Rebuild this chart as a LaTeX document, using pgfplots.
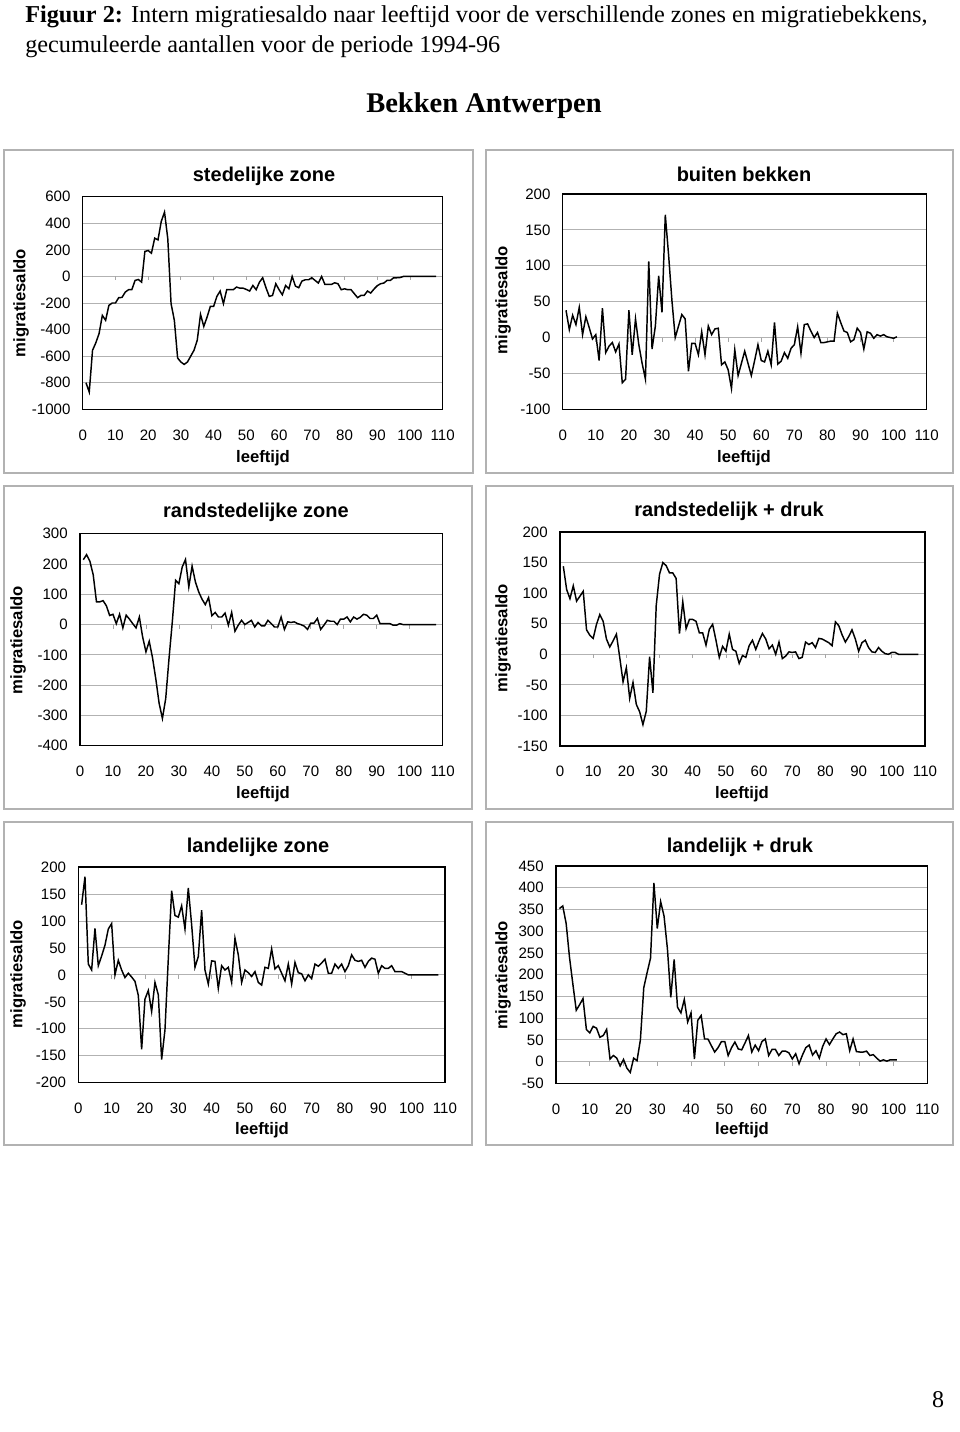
\documentclass[border=0pt]{standalone}
\usepackage{fontspec}
\setmainfont{Liberation Serif}
\newfontfamily\arial{Liberation Sans}
\usepackage{pgfplots}
\pgfplotsset{compat=1.18}
\newcommand\tickfont{\arial\fontsize{11.3}{13}\selectfont}
\newcommand\titlefont{\arial\bfseries\fontsize{15}{17}\selectfont}
\newcommand\labfont{\arial\bfseries\fontsize{12.5}{15}\selectfont}
\pgfplotsset{
  panel/.style={
    scale only axis, anchor=south west,
    xmin=0, xmax=110, xtick={0,10,...,110},
    axis line style={black, line width=0.9pt},
    ymajorgrids, grid style={line width=0.6pt, color=black!30},
    major tick length=0pt, minor tick length=0pt,
    tick label style={font=\tickfont},
    /pgf/number format/assume math mode=true,
    /pgf/number format/1000 sep={},
    scaled ticks=false,
    xticklabel style={anchor=center, yshift=-19.3pt},
    yticklabel style={anchor=east, inner sep=0pt, xshift=-9pt},
  },
  dat/.style={black, line width=1.1pt, mark=none},
}
\newcommand\zeroticks{\pgfplotsinvokeforeach{10,20,...,100}{\draw[black!35, line width=0.6pt] (axis cs:##1,0) -- ([yshift=-3pt]axis cs:##1,0);}}
\begin{document}
\begin{tikzpicture}
\begin{scope}[x=0.75pt,y=-0.75pt]
\path[use as bounding box] (0,0) rectangle (960,1432);
\node[anchor=base west, inner sep=0pt, font=\fontsize{18.2}{22}\selectfont] at (25,22) {\textbf{Figuur 2:} Intern migratiesaldo naar leeftijd voor de verschillende zones en migratiebekkens,};
\node[anchor=base west, inner sep=0pt, font=\fontsize{18.2}{22}\selectfont] at (25,52) {gecumuleerde aantallen voor de periode 1994-96};
\node[anchor=base, inner sep=0pt, font=\bfseries\fontsize{21.4}{25}\selectfont] at (484,112) {Bekken Antwerpen};
\draw[black!30, line width=0.9pt] (4,150) rectangle (473,473);
\draw[black!30, line width=0.9pt] (486,150) rectangle (953,473);
\draw[black!30, line width=0.9pt] (4,486) rectangle (472,809);
\draw[black!30, line width=0.9pt] (486,486) rectangle (953,809);
\draw[black!30, line width=0.9pt] (4,822) rectangle (472,1145);
\draw[black!30, line width=0.9pt] (486,822) rectangle (953,1145);
% titles
\node[font=\titlefont] at (264,176) {stedelijke zone};
\node[font=\titlefont] at (744,174) {buiten bekken};
\node[font=\titlefont] at (256,512) {randstedelijke zone};
\node[font=\titlefont] at (729,511) {randstedelijk + druk};
\node[font=\titlefont] at (258,847) {landelijke zone};
\node[font=\titlefont] at (740,847) {landelijk + druk};
% y labels
\node[font=\labfont, rotate=90] at (21,303) {migratiesaldo};
\node[font=\labfont, rotate=90] at (503,300) {migratiesaldo};
\node[font=\labfont, rotate=90] at (18,640) {migratiesaldo};
\node[font=\labfont, rotate=90] at (503,638) {migratiesaldo};
\node[font=\labfont, rotate=90] at (18,974) {migratiesaldo};
\node[font=\labfont, rotate=90] at (503,975) {migratiesaldo};
% x labels
\node[font=\labfont] at (263,458) {leeftijd};
\node[font=\labfont] at (744,458) {leeftijd};
\node[font=\labfont] at (263,794) {leeftijd};
\node[font=\labfont] at (742,794) {leeftijd};
\node[font=\labfont] at (262,1130) {leeftijd};
\node[font=\labfont] at (742,1130) {leeftijd};
\node[anchor=base, font=\fontsize{18}{20}\selectfont] at (938,1407) {8};
\end{scope}

% Panel 1: stedelijke zone
\begin{axis}[panel, at={(62.03pt,-306.98pt)}, width=270pt, height=159.45pt,
  ymin=-1000, ymax=600, ytick={-1000,-800,...,600}]
\zeroticks
\addplot[dat] coordinates {(1,-800)(2,-870)(3,-556)(4,-500)(5,-430)(6,-293)(7,-330)(8,-218)(9,-200)(10,-200)(11,-160)(12,-158)(13,-118)(14,-100)(15,-100)(16,-30)(17,-23)(18,-43)(19,188)(20,195)(21,175)(22,288)(23,275)(24,414)(25,484)(26,283)(27,-205)(28,-330)(29,-614)(30,-644)(31,-662)(32,-644)(33,-600)(34,-556)(35,-480)(36,-286)(37,-376)(38,-306)(39,-226)(40,-226)(41,-150)(42,-110)(43,-205)(44,-100)(45,-100)(46,-100)(47,-80)(48,-88)(49,-88)(50,-98)(51,-110)(52,-68)(53,-100)(54,-43)(55,-10)(56,-85)(57,-150)(58,-143)(59,-55)(60,-100)(61,-138)(62,-68)(63,-93)(64,0)(65,-73)(66,-85)(67,-35)(68,-25)(69,-25)(70,-10)(71,-30)(72,-50)(73,0)(74,-60)(75,-60)(76,-60)(77,-48)(78,-55)(79,-100)(80,-93)(81,-100)(82,-100)(83,-130)(84,-160)(85,-143)(86,-143)(87,-110)(88,-125)(89,-95)(90,-70)(91,-55)(92,-50)(93,-30)(94,-30)(95,-10)(96,-10)(97,-8)(98,0)(99,0)(100,0)(101,0)(102,0)(103,0)(104,0)(105,0)(106,0)(107,0)(108,0)};
\end{axis}

% Panel 2: buiten bekken
\begin{axis}[panel, at={(422.03pt,-306.98pt)}, width=273pt, height=161.5pt,
  ymin=-100, ymax=200, ytick={-100,-50,...,200}]
\zeroticks
\addplot[dat] coordinates {(1,38)(2,11)(3,31)(4,18)(5,42)(6,4)(7,29)(8,14)(9,-2)(10,4)(11,-32)(12,41)(13,-21)(14,-12)(15,-7)(16,-20)(17,-9)(18,-63)(19,-58)(20,38)(21,-24)(22,26)(23,-10)(24,-36)(25,-58)(26,106)(27,-16)(28,16)(29,86)(30,35)(31,171)(32,115)(33,52)(34,0)(35,16)(36,32)(37,26)(38,-47)(39,-8)(40,-8)(41,-24)(42,8)(43,-24)(44,16)(45,4)(46,12)(47,13)(48,-38)(49,-34)(50,-45)(51,-71)(52,-17)(53,-53)(54,-36)(55,-19)(56,-36)(57,-53)(58,-32)(59,-10)(60,-32)(61,-34)(62,-19)(63,-38)(64,21)(65,-37)(66,-33)(67,-21)(68,-29)(69,-15)(70,-10)(71,15)(72,-22)(73,18)(74,19)(75,9)(76,0)(77,7)(78,-7)(79,-7)(80,-6)(81,-5)(82,-5)(83,34)(84,21)(85,9)(86,7)(87,-6)(88,-3)(89,13)(90,7)(91,-16)(92,8)(93,6)(94,-1)(95,4)(96,2)(97,4)(98,1)(99,0)(100,-1)(101,1)};
\end{axis}

% Panel 3: randstedelijke zone
\begin{axis}[panel, at={(60pt,-559.28pt)}, width=272pt, height=159pt,
  ymin=-400, ymax=300, ytick={-400,-300,...,300}]
\zeroticks
\addplot[dat] coordinates {(1,214)(2,231)(3,209)(4,165)(5,75)(6,75)(7,79)(8,62)(9,30)(10,34)(11,3)(12,34)(13,-11)(14,31)(15,18)(16,3)(17,-11)(18,25)(19,-41)(20,-90)(21,-55)(22,-110)(23,-180)(24,-260)(25,-310)(26,-244)(27,-112)(28,9)(29,146)(30,135)(31,190)(32,215)(33,124)(34,193)(35,141)(36,108)(37,84)(38,66)(39,89)(40,29)(41,40)(42,25)(43,25)(44,38)(45,-2)(46,40)(47,-22)(48,-2)(49,14)(50,0)(51,7)(52,14)(53,-8)(54,7)(55,-4)(56,-4)(57,14)(58,3)(59,-8)(60,-8)(61,25)(62,-16)(63,9)(64,7)(65,9)(66,3)(67,0)(68,-5)(69,-16)(70,5)(71,5)(72,20)(73,-16)(74,-2)(75,14)(76,11)(77,11)(78,0)(79,18)(80,18)(81,25)(82,9)(83,25)(84,18)(85,24)(86,34)(87,31)(88,20)(89,20)(90,31)(91,3)(92,3)(93,3)(94,3)(95,-2)(96,-2)(97,3)(98,0)(99,0)(100,0)(101,0)(102,0)(103,0)(104,0)(105,0)(106,0)(107,0)(108,0)};
\end{axis}

% Panel 4: randstedelijk + druk
\begin{axis}[panel, at={(420pt,-559.5pt)}, width=273.75pt, height=160.5pt,
  ymin=-150, ymax=200, ytick={-150,-100,...,200}]
\zeroticks
\addplot[dat] coordinates {(1,144)(2,106)(3,91)(4,112)(5,87)(6,95)(7,103)(8,40)(9,31)(10,26)(11,49)(12,65)(13,54)(14,25)(15,12)(16,22)(17,33)(18,-5)(19,-45)(20,-22)(21,-72)(22,-46)(23,-82)(24,-94)(25,-115)(26,-93)(27,-4)(28,-63)(29,80)(30,131)(31,150)(32,145)(33,133)(34,133)(35,124)(36,34)(37,86)(38,42)(39,57)(40,57)(41,54)(42,35)(43,35)(44,15)(45,41)(46,49)(47,23)(48,-5)(49,13)(50,5)(51,33)(52,8)(53,5)(54,-15)(55,-2)(56,-5)(57,14)(58,23)(59,8)(60,22)(61,34)(62,25)(63,9)(64,15)(65,0)(66,20)(67,-7)(68,-3)(69,4)(70,3)(71,4)(72,-7)(73,-5)(74,20)(75,16)(76,19)(77,11)(78,26)(79,25)(80,22)(81,19)(82,14)(83,53)(84,47)(85,32)(86,20)(87,29)(88,40)(89,25)(90,5)(91,19)(92,23)(93,11)(94,4)(95,3)(96,11)(97,5)(98,1)(99,0)(100,3)(101,3)(102,0)(103,0)(104,0)(105,0)(106,0)(107,0)(108,0)};
\end{axis}

% Panel 5: landelijke zone
\begin{axis}[panel, at={(58.73pt,-812.03pt)}, width=275pt, height=161.8pt,
  ymin=-200, ymax=200, ytick={-200,-150,...,200}]
\zeroticks
\addplot[dat] coordinates {(1,130)(2,182)(3,20)(4,9)(5,86)(6,17)(7,35)(8,55)(9,85)(10,95)(11,0)(12,27)(13,9)(14,-5)(15,3)(16,-4)(17,-12)(18,-38)(19,-138)(20,-45)(21,-29)(22,-68)(23,-14)(24,-37)(25,-157)(26,-102)(27,30)(28,156)(29,110)(30,107)(31,128)(32,85)(33,161)(34,93)(35,14)(36,34)(37,120)(38,9)(39,-17)(40,26)(41,25)(42,-25)(43,17)(44,9)(45,14)(46,-14)(47,68)(48,37)(49,-14)(50,9)(51,4)(52,-3)(53,6)(54,-14)(55,-19)(56,14)(57,12)(58,48)(59,11)(60,17)(61,3)(62,-11)(63,20)(64,-17)(65,23)(66,4)(67,2)(68,-11)(69,0)(70,-7)(71,20)(72,16)(73,22)(74,29)(75,3)(76,3)(77,20)(78,12)(79,20)(80,6)(81,17)(82,37)(83,27)(84,25)(85,27)(86,14)(87,25)(88,31)(89,29)(90,3)(91,17)(92,12)(93,12)(94,17)(95,6)(96,6)(97,6)(98,3)(99,0)(100,0)(101,0)(102,0)(103,0)(104,0)(105,0)(106,0)(107,0)(108,0)};
\end{axis}

% Panel 6: landelijk + druk
\begin{axis}[panel, at={(417pt,-812.48pt)}, width=278.5pt, height=163pt,
  ymin=-50, ymax=450, ytick={-50,0,...,450}]
\zeroticks
\addplot[dat] coordinates {(1,352)(2,358)(3,318)(4,240)(5,178)(6,118)(7,131)(8,145)(9,74)(10,66)(11,81)(12,77)(13,56)(14,60)(15,74)(16,6)(17,14)(18,8)(19,-10)(20,5)(21,-15)(22,-25)(23,8)(24,2)(25,50)(26,170)(27,205)(28,238)(29,411)(30,306)(31,368)(32,335)(33,260)(34,148)(35,235)(36,125)(37,112)(38,143)(39,91)(40,112)(41,6)(42,95)(43,106)(44,52)(45,52)(46,37)(47,22)(48,32)(49,46)(50,46)(51,14)(52,32)(53,45)(54,29)(55,27)(56,43)(57,60)(58,22)(59,38)(60,25)(61,46)(62,52)(63,14)(64,28)(65,28)(66,14)(67,24)(68,24)(69,20)(70,6)(71,18)(72,-5)(73,15)(74,32)(75,38)(76,15)(77,25)(78,8)(79,35)(80,52)(81,39)(82,52)(83,64)(84,68)(85,62)(86,64)(87,25)(88,52)(89,23)(90,22)(91,22)(92,24)(93,14)(94,16)(95,8)(96,1)(97,4)(98,1)(99,4)(100,4)(101,4)};
\end{axis}
\end{tikzpicture}
\end{document}
